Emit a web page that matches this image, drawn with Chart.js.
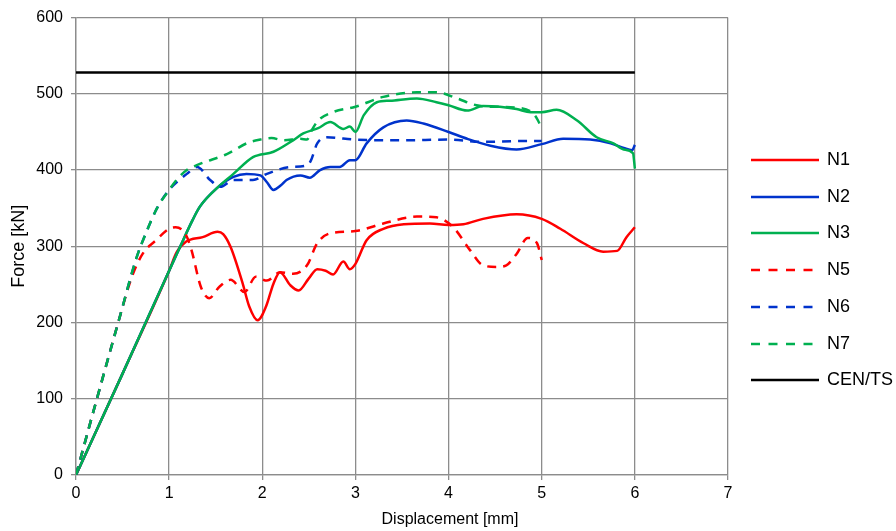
<!DOCTYPE html>
<html>
<head>
<meta charset="utf-8">
<title>Force - Displacement</title>
<script src="https://cdn.jsdelivr.net/npm/chart.js@4"></script>
<style>
  html, body { margin: 0; padding: 0; background: #fff; }
</style>
</head>
<body>
<canvas id="forceChart" width="896" height="531"></canvas>
<script>
// displacement [mm] / force [kN] pairs
const n1X = [0, 0.5, 1.0, 1.08, 1.18, 1.36, 1.52, 1.58, 1.66, 1.79, 1.86, 1.95, 2.04, 2.12, 2.19, 2.3, 2.39, 2.5, 2.59, 2.68, 2.76, 2.87, 2.94, 3.0, 3.12, 3.3, 3.52, 3.8, 4.0, 4.16, 4.37, 4.73, 5.0, 5.2, 5.45, 5.66, 5.81, 5.91, 6.0];
const n1Y = [0, 133, 268, 292, 306, 312, 319, 316, 299, 251, 221, 203, 221, 251, 266, 249, 242, 258, 270, 268, 263, 280, 270, 277, 308, 323, 329, 330, 328, 329, 336, 342, 336, 323, 304, 293, 294, 312, 325];

const n2X = [0, 0.5, 1.0, 1.12, 1.25, 1.33, 1.51, 1.69, 1.83, 1.98, 2.05, 2.12, 2.2, 2.26, 2.41, 2.51, 2.62, 2.73, 2.83, 2.94, 3.0, 3.12, 3.3, 3.55, 3.73, 4.0, 4.2, 4.45, 4.73, 5.0, 5.23, 5.52, 5.74, 5.88, 5.97, 6.0];
const n2Y = [0, 133, 268, 300, 334, 352, 376, 391, 395, 393, 384, 374, 380, 387, 393, 390, 400, 404, 404, 413, 413, 435, 456, 465, 461, 450, 441, 432, 427, 434, 441, 440, 435, 429, 426, 433];

const n3X = [0, 0.5, 1.0, 1.12, 1.25, 1.33, 1.51, 1.69, 1.9, 2.12, 2.33, 2.44, 2.6, 2.73, 2.87, 2.94, 3.0, 3.09, 3.23, 3.37, 3.66, 3.87, 4.0, 4.2, 4.37, 4.55, 4.73, 4.88, 5.0, 5.16, 5.38, 5.59, 5.77, 5.88, 5.98, 6.0];
const n3Y = [0, 133, 268, 300, 334, 352, 376, 395, 417, 424, 439, 448, 455, 463, 454, 457, 450, 472, 489, 491, 494, 489, 485, 478, 484, 483, 480, 476, 476, 479, 465, 443, 435, 427, 422, 402];

const n5X = [0, 0.22, 0.46, 0.6, 0.72, 0.86, 1.0, 1.07, 1.18, 1.24, 1.34, 1.43, 1.54, 1.66, 1.81, 1.93, 2.05, 2.19, 2.33, 2.48, 2.59, 2.73, 3.0, 3.3, 3.66, 3.87, 4.05, 4.23, 4.37, 4.52, 4.62, 4.73, 4.85, 4.95, 5.0];
const n5Y = [0, 98, 203, 260, 291, 308, 323, 325, 315, 295, 247, 232, 247, 256, 240, 260, 255, 266, 264, 275, 304, 317, 320, 330, 339, 338, 325, 295, 275, 273, 275, 290, 311, 304, 282];

const n6X = [0, 0.22, 0.46, 0.65, 0.75, 0.87, 1.0, 1.19, 1.3, 1.44, 1.55, 1.69, 1.9, 2.05, 2.3, 2.48, 2.52, 2.59, 2.69, 3.0, 3.5, 4.0, 4.37, 4.73, 5.0];
const n6Y = [0, 98, 203, 285, 317, 350, 374, 395, 404, 387, 378, 387, 387, 395, 404, 406, 412, 435, 443, 440, 439, 440, 437, 438, 438];

const n7X = [0, 0.22, 0.46, 0.65, 0.75, 0.87, 1.0, 1.1, 1.19, 1.33, 1.62, 1.85, 1.98, 2.1, 2.23, 2.41, 2.48, 2.53, 2.6, 2.76, 3.0, 3.3, 3.66, 3.87, 4.09, 4.3, 4.5, 4.73, 4.91, 4.96, 5.0];
const n7Y = [0, 98, 203, 285, 317, 350, 374, 390, 400, 408, 421, 436, 440, 442, 439, 441, 440, 452, 465, 476, 483, 496, 502, 502, 494, 485, 483, 482, 474, 465, 454];

const cenX = [0, 6];
const cenY = [528, 528];

const seriesNames = ['N1', 'N2', 'N3', 'N5', 'N6', 'N7', 'CEN/TS'];
const seriesColors = ['#ff0000', '#0033cc', '#00b050', '#ff0000', '#0033cc', '#00b050', '#000000'];
const seriesDashed = [false, false, false, true, true, true, false];
const seriesX = [n1X, n2X, n3X, n5X, n6X, n7X, cenX];
const seriesY = [n1Y, n2Y, n3Y, n5Y, n6Y, n7Y, cenY];

const xTitle = 'Displacement [mm]';
const yTitle = 'Force [kN]';

const fontFamily = 'Arial, "Liberation Sans", sans-serif';
const gridColor = '#8c8c8c';

const toPoints = (xs, ys) => xs.map((x, i) => ({ x: x, y: ys[i] }));

const datasets = seriesNames.map((name, i) => ({
  label: name,
  data: toPoints(seriesX[i], seriesY[i]),
  borderColor: seriesColors[i],
  backgroundColor: seriesColors[i],
  borderWidth: 2.5,
  borderDash: seriesDashed[i] ? [9, 7] : [],
  pointRadius: 0,
  fill: false,
  cubicInterpolationMode: 'monotone',
  order: seriesNames.length - i
}));

// legend on the right + x title centred under the whole figure
const sideLegend = {
  id: 'sideLegend',
  afterDraw(chart) {
    const ctx = chart.ctx;
    ctx.save();
    ctx.fillStyle = '#000';
    ctx.textBaseline = 'middle';

    ctx.font = '16px ' + fontFamily;
    ctx.textAlign = 'center';
    ctx.fillText(xTitle, 450, 520);

    ctx.font = '18px ' + fontFamily;
    ctx.textAlign = 'left';
    chart.data.datasets.forEach((ds, i) => {
      const y = Math.round(160 + i * 36.7);
      const dashed = ds.borderDash.length > 0;
      ctx.beginPath();
      ctx.setLineDash(dashed ? [9, 8.5] : []);
      ctx.strokeStyle = ds.borderColor;
      ctx.lineWidth = 2.5;
      ctx.moveTo(751, y);
      ctx.lineTo(dashed ? 813 : 819, y);
      ctx.stroke();
      ctx.setLineDash([]);
      ctx.fillText(ds.label, 827, y);
    });
    ctx.restore();
  }
};

new Chart(document.getElementById('forceChart'), {
  type: 'line',
  data: { datasets: datasets },
  plugins: [sideLegend],
  options: {
    responsive: false,
    animation: false,
    layout: { padding: { top: 17, right: 168, bottom: 0, left: 0 } },
    plugins: {
      legend: { display: false },
      tooltip: { enabled: false }
    },
    scales: {
      x: {
        type: 'linear',
        min: 0,
        max: 7,
        ticks: { stepSize: 1, color: '#000', font: { size: 16, family: fontFamily }, padding: 4 },
        grid: { color: gridColor, lineWidth: 1.3, tickLength: 5 },
        border: { color: gridColor, width: 1.3 },
        afterFit(scale) { scale.height = 56; }
      },
      y: {
        type: 'linear',
        min: 0,
        max: 600,
        ticks: { stepSize: 100, color: '#000', font: { size: 16, family: fontFamily }, padding: 8 },
        grid: { color: gridColor, lineWidth: 1.3, tickLength: 5 },
        border: { color: gridColor, width: 1.3 },
        title: {
          display: true,
          text: yTitle,
          color: '#000',
          font: { size: 18, family: fontFamily },
          padding: { top: 8, bottom: 0 }
        },
        afterFit(scale) { scale.width = 76; }
      }
    }
  }
});
</script>
</body>
</html>
